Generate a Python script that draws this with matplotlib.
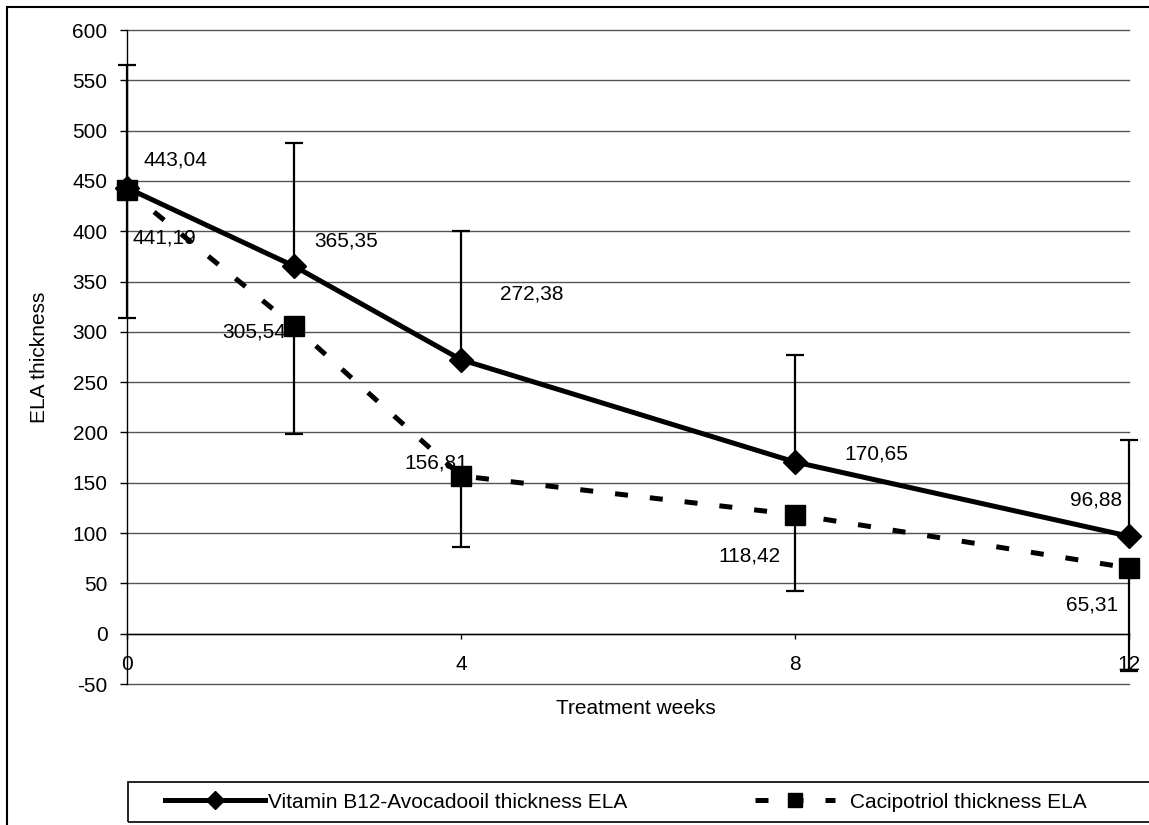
import matplotlib
matplotlib.use("Agg")
import matplotlib.pyplot as plt
from matplotlib.patches import Rectangle
import numpy as np

plt.rcParams['font.family'] = ['Liberation Sans', 'DejaVu Sans']
plt.rcParams['font.size'] = 15
plt.rcParams['axes.unicode_minus'] = False

weeks = [0, 2, 4, 8, 12]
vitamin = [443.04, 365.35, 272.38, 170.65, 96.88]
caci = [441.19, 305.54, 156.81, 118.42, 65.31]
vitamin_err = [122, 122, 128, 106, 96]
caci_err = [127, 107, 71, 76, 102]
vitamin_name = "Vitamin B12-Avocadooil thickness ELA"
caci_name = "Cacipotriol thickness ELA"

# label offsets in pixels (dx, dy down)
vit_offsets = [(48, -28), (52, -25), (71, -66), (81, -8), (-33, -36)]
caci_offsets = [(37, 48), (-40, 6), (-25, -13), (-46, 41), (-37, 37)]

fig = plt.figure(figsize=(11.49, 8.25), dpi=100)
ax = fig.add_axes([127 / 1149, 1 - 684 / 825, 1002 / 1149, 654 / 825])

ax.set_xlim(0, 12)
ax.set_ylim(-50, 600)
ax.set_yticks(np.arange(-50, 601, 50))
ax.set_xticks([0, 4, 8, 12])
ax.yaxis.grid(True, color='#555555', linewidth=1.0)
ax.set_axisbelow(True)
for gl in ax.get_ygridlines():
    gl.set_clip_on(False)

for s in ['top', 'right']:
    ax.spines[s].set_visible(False)
ax.spines['bottom'].set_position(('data', 0))
ax.spines['bottom'].set_linewidth(1.0)
ax.spines['left'].set_linewidth(1.0)
ax.tick_params(axis='y', direction='out', length=5, width=1, pad=9)
ax.tick_params(axis='x', direction='out', length=3.5, width=1, pad=12)

eb1 = ax.errorbar(weeks, vitamin, yerr=[np.zeros(len(weeks)), vitamin_err], fmt='none',
                  ecolor='black', elinewidth=1.6, capsize=6.5, capthick=1.6, zorder=3)
eb2 = ax.errorbar(weeks, caci, yerr=[caci_err, np.zeros(len(weeks))], fmt='none',
                  ecolor='black', elinewidth=1.6, capsize=6.5, capthick=1.6, zorder=3)
for eb in [eb1, eb2]:
    for child in eb.get_children():
        child.set_clip_on(False)

l1, = ax.plot(weeks, vitamin, color='black', lw=3.6, marker='D', ms=12.5,
              clip_on=False, zorder=4, label=vitamin_name)
l2, = ax.plot(weeks, caci, color='black', lw=3.6, ls=(0, (2.6, 4.4)), marker='s', ms=14,
              clip_on=False, zorder=4, label=caci_name)

for x, y, (dx, dy) in zip(weeks, vitamin, vit_offsets):
    ax.annotate(f"{y:.2f}".replace('.', ','), (x, y), xytext=(dx / 1.389, -dy / 1.389),
                textcoords='offset points', ha='center', va='center', annotation_clip=False)
for x, y, (dx, dy) in zip(weeks, caci, caci_offsets):
    ax.annotate(f"{y:.2f}".replace('.', ','), (x, y), xytext=(dx / 1.389, -dy / 1.389),
                textcoords='offset points', ha='center', va='center', annotation_clip=False)

ax.set_ylabel("ELA thickness")
ax.yaxis.set_label_coords(-0.087, 0.5)
ax.yaxis.label.set_va('center')
ax.set_xlabel("Treatment weeks")
ax.xaxis.set_label_coords(0.508, -25 / 654)
ax.xaxis.label.set_va('center')

leg1 = fig.legend(handles=[l1], loc='center left', bbox_to_anchor=(165 / 1149, 1 - 802 / 825),
                  frameon=False, borderpad=0, borderaxespad=0, handlelength=4.8,
                  handletextpad=0.15, markerscale=0.7, numpoints=1)
leg2 = fig.legend(handles=[l2], loc='center left', bbox_to_anchor=(755 / 1149, 1 - 802 / 825),
                  frameon=False, borderpad=0, borderaxespad=0, handlelength=3.85,
                  handletextpad=0.7, markerscale=0.7, numpoints=1)

fig.add_artist(Rectangle((128 / 1149, 3 / 825), 1.1, 40 / 825, transform=fig.transFigure,
                         fill=False, edgecolor='black', lw=1.2, clip_on=False))
fig.add_artist(Rectangle((7 / 1149, -0.1), 1.2, 1.1 - 7 / 825, transform=fig.transFigure,
                         fill=False, edgecolor='black', lw=1.5, clip_on=False))

fig.savefig("out.png", dpi=100)
